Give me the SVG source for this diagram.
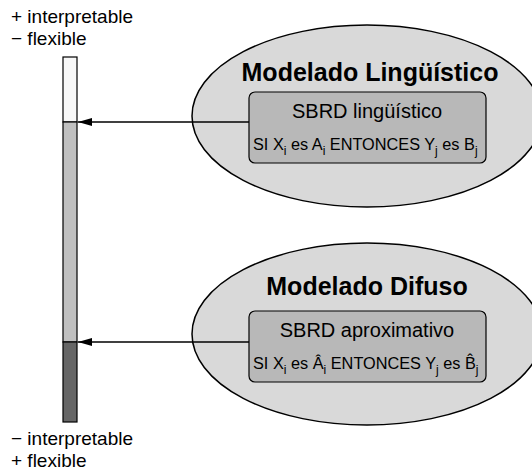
<svg xmlns="http://www.w3.org/2000/svg" width="532" height="472" viewBox="0 0 532 472">
  <defs>
    <marker id="arrow" markerWidth="14" markerHeight="10" refX="14" refY="5" orient="auto" markerUnits="userSpaceOnUse">
      <path d="M0,1 L14,5 L0,9 Z" fill="#000"/>
    </marker>
    <style>
      text { font-family: "Liberation Sans", Arial, sans-serif; fill: #000; }
      tspan { fill: #000; }
      .lbl { font-size: 19px; }
      .title { font-size: 25px; font-weight: bold; text-anchor: middle; }
      .sys { font-size: 20px; text-anchor: middle; }
      .rule { font-size: 16.3px; }
      .sub { font-size: 12px; }
      .cloud { fill: #d9d9d9; stroke: #000; stroke-width: 1.5; }
      .box { fill: #b8b8b8; stroke: #000; stroke-width: 1.2; }
      .bar { stroke: #000; stroke-width: 1.2; }
      .link { stroke: #000; stroke-width: 1.3; fill: none; }
    </style>
  </defs>
  <rect width="532" height="472" fill="#fff"/>

  <!-- scale labels -->
  <g id="top-labels">
    <text class="lbl" x="11" y="23">+ interpretable</text>
    <text class="lbl" x="11" y="45">− flexible</text>
  </g>
  <g id="bottom-labels">
    <text class="lbl" x="11" y="445">− interpretable</text>
    <text class="lbl" x="11" y="467">+ flexible</text>
  </g>

  <!-- interpretability / flexibility bar -->
  <g id="scale-bar">
    <rect class="bar" x="63" y="57" width="14" height="65" fill="#f7f7f7"/>
    <rect class="bar" x="63" y="122" width="14" height="220" fill="#c0c0c0"/>
    <rect class="bar" x="63" y="342" width="14" height="80" fill="#666"/>
  </g>

  <!-- linguistic modelling -->
  <g id="modelado-linguistico">
    <ellipse class="cloud" cx="367" cy="116" rx="175" ry="91"/>
    <text class="title" x="370" y="81">Modelado Lingüístico</text>
    <rect class="box" x="249" y="92" width="237" height="71" rx="6"/>
    <text class="sys" x="367" y="118">SBRD lingüístico</text>
    <text class="rule" x="253" y="150">SI X<tspan class="sub" dy="5">i</tspan><tspan dy="-5"> es A</tspan><tspan class="sub" dy="5">i</tspan><tspan dy="-5"> ENTONCES Y</tspan><tspan class="sub" dy="5">j</tspan><tspan dy="-5"> es B</tspan><tspan class="sub" dy="5">j</tspan></text>
  </g>

  <!-- fuzzy modelling -->
  <g id="modelado-difuso">
    <ellipse class="cloud" cx="367" cy="334" rx="175" ry="91"/>
    <text class="title" x="367" y="295">Modelado Difuso</text>
    <rect class="box" x="249" y="311" width="237" height="71" rx="6"/>
    <text class="sys" x="367" y="337">SBRD aproximativo</text>
    <text class="rule" x="253" y="369">SI X<tspan class="sub" dy="5">i</tspan><tspan dy="-5"> es Â</tspan><tspan class="sub" dy="5">i</tspan><tspan dy="-5"> ENTONCES Y</tspan><tspan class="sub" dy="5">j</tspan><tspan dy="-5"> es B̂</tspan><tspan class="sub" dy="5">j</tspan></text>
  </g>

  <!-- connectors -->
  <g id="connectors">
    <line class="link" x1="249" y1="122" x2="78" y2="122" marker-end="url(#arrow)"/>
    <line class="link" x1="249" y1="342" x2="78" y2="342" marker-end="url(#arrow)"/>
  </g>
</svg>
